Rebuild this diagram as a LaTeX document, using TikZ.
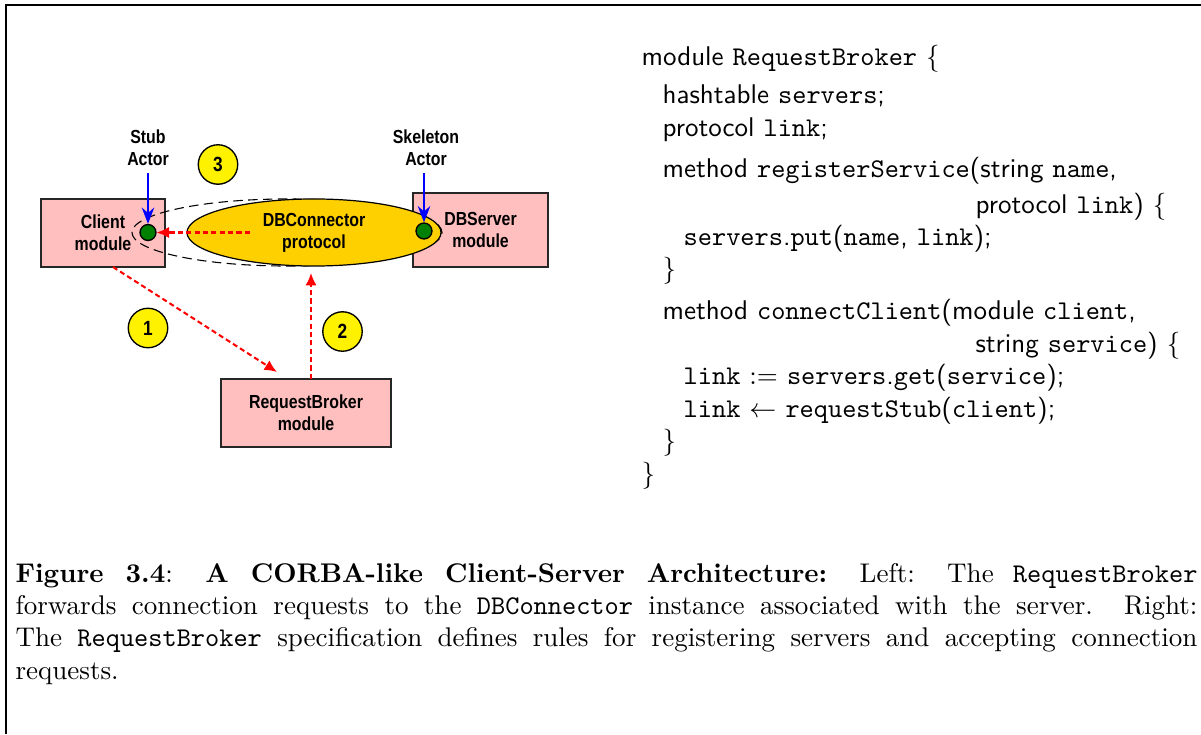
\documentclass[tikz,border=0pt]{standalone}
\usepackage{fontspec}
\newfontfamily\diagfont[FakeStretch=0.84]{Liberation Sans}
\usetikzlibrary{arrows.meta,shapes.geometric}

\definecolor{modpink}{RGB}{255,191,191}
\definecolor{conngold}{RGB}{255,208,0}
\definecolor{actgreen}{RGB}{0,128,0}
\definecolor{reqred}{RGB}{255,0,0}
\definecolor{actblue}{RGB}{0,0,255}

\newcommand{\id}[1]{\texttt{#1}}
\newcommand{\diagtext}{\diagfont\bfseries\fontsize{7}{8.1}\selectfont}

\tikzset{
  modbox/.style={draw=black!85, line width=0.6pt, fill=modpink, inner sep=0pt, align=center, font=\diagtext},
  connoval/.style={ellipse, draw, line width=0.45pt, fill=conngold, inner sep=0pt, align=center, font=\diagtext},
  stubring/.style={ellipse, draw, line width=0.4pt, dash pattern=on 3.5pt off 2pt, inner sep=0pt},
  actordot/.style={circle, draw, line width=0.5pt, fill=actgreen, minimum size=5.9pt, inner sep=0pt},
  actortext/.style={align=center, inner sep=0pt, font=\diagtext},
  stepnum/.style={circle, draw, line width=0.5pt, fill=yellow, minimum size=14.6pt, inner sep=0pt, font=\diagfont\bfseries\fontsize{7.6}{8.1}\selectfont},
  actorarrow/.style={->, actblue, line width=0.8pt},
  reqarrow/.style={-{Latex[length=4.6pt,width=4.2pt]}, reqred, line width=0.75pt, dash pattern=on 1.9pt off 1.2pt},
}

\begin{document}
\begin{tikzpicture}[x=0.37pt, y=-0.37pt, >={Stealth[length=6pt,width=4.6pt]}]
    \useasboundingbox (0,0) rectangle (1201,734);

    % Frame
    \draw[line width=0.85pt] (1201,5) -- (6,5) -- (6,734);

    % Modules
    \node[modbox, minimum width=45.9pt, minimum height=25.2pt] (client) at (103,233) {Client\\module};
    \node[modbox, minimum width=50pt, minimum height=27.4pt] (server) at (480.5,230) {DBServer\\module};
    \node[modbox, minimum width=62.9pt, minimum height=25.2pt] (broker) at (306,413) {RequestBroker\\module};

    % DBConnector protocol
    \node[stubring, minimum width=114.7pt, minimum height=24.8pt] (ring) at (287,232.5) {};
    \node[connoval, minimum width=94pt, minimum height=24.8pt] (connector) at (314,232.5) {DBConnector\\protocol};

    % Actors
    \node[actordot] (stubdot) at (148,232.5) {};
    \node[actordot] (skeldot) at (424,231) {};
    \node[actortext] (stubtext) at (148,148) {Stub\\Actor};
    \node[actortext] (skeltext) at (426,148) {Skeleton\\Actor};
    \draw[actorarrow, shorten <=2.6pt] (stubtext.south -| stubdot) -- (stubdot);
    \draw[actorarrow, shorten <=2.6pt] (skeltext.south -| skeldot) -- (skeldot);

    % Requests
    \coordinate (conntail) at (250,232.5);
    \coordinate (req1) at (113,267);
    \coordinate (req1end) at (277,372);
    \coordinate (req2) at (311,379);
    \coordinate (req2end) at (311,273);
    \draw[reqarrow] (conntail) -- (stubdot);
    \draw[reqarrow] (req1) -- (req1end);
    \draw[reqarrow] (req2) -- (req2end);

    % Steps
    \node[stepnum] (num1) at (148,328) {1};
    \node[stepnum] (num2) at (342.5,331.5) {2};
    \node[stepnum] (num3) at (218,164.5) {3};

    % Specification (anchored at its last line)
    \node[anchor=base west, align=left, inner sep=0pt, font=\sffamily] (spec) at (641,482) {%
      module \id{RequestBroker} $\{$\\[2pt]
      \hspace*{7.8pt}hashtable \id{servers};\\
      \hspace*{7.8pt}protocol \id{link};\\[3.5pt]
      \hspace*{7.8pt}method \id{registerService}(string \id{name},\\[1pt]
      \hspace*{123.6pt}protocol \id{link}) $\{$\\
      \hspace*{15.6pt}\id{servers}.\id{put}(\id{name}, \id{link});\\
      \hspace*{7.8pt}$\}$\\[3.5pt]
      \hspace*{7.8pt}method \id{connectClient}(module \id{client},\\
      \hspace*{123.6pt}string \id{service}) $\{$\\
      \hspace*{15.6pt}\id{link} $:=$ \id{servers}.\id{get}(\id{service});\\
      \hspace*{15.6pt}\id{link} $\leftarrow$ \id{requestStub}(\id{client});\\
      \hspace*{7.8pt}$\}$\\
      $\}$};

    % Caption
    \node[anchor=base west, text width=437.3pt, align=justify, inner sep=0pt] (caption) at (15,582) {%
      \textbf{Figure 3.4}: \textbf{A CORBA-like Client-Server Architecture:} Left: The \texttt{RequestBroker}\linebreak
      forwards connection requests to the \texttt{DBConnector} instance associated with the server. Right:\linebreak
      The \texttt{RequestBroker} specification defines rules for registering servers and accepting connection\linebreak
      requests.};
\end{tikzpicture}
\end{document}
